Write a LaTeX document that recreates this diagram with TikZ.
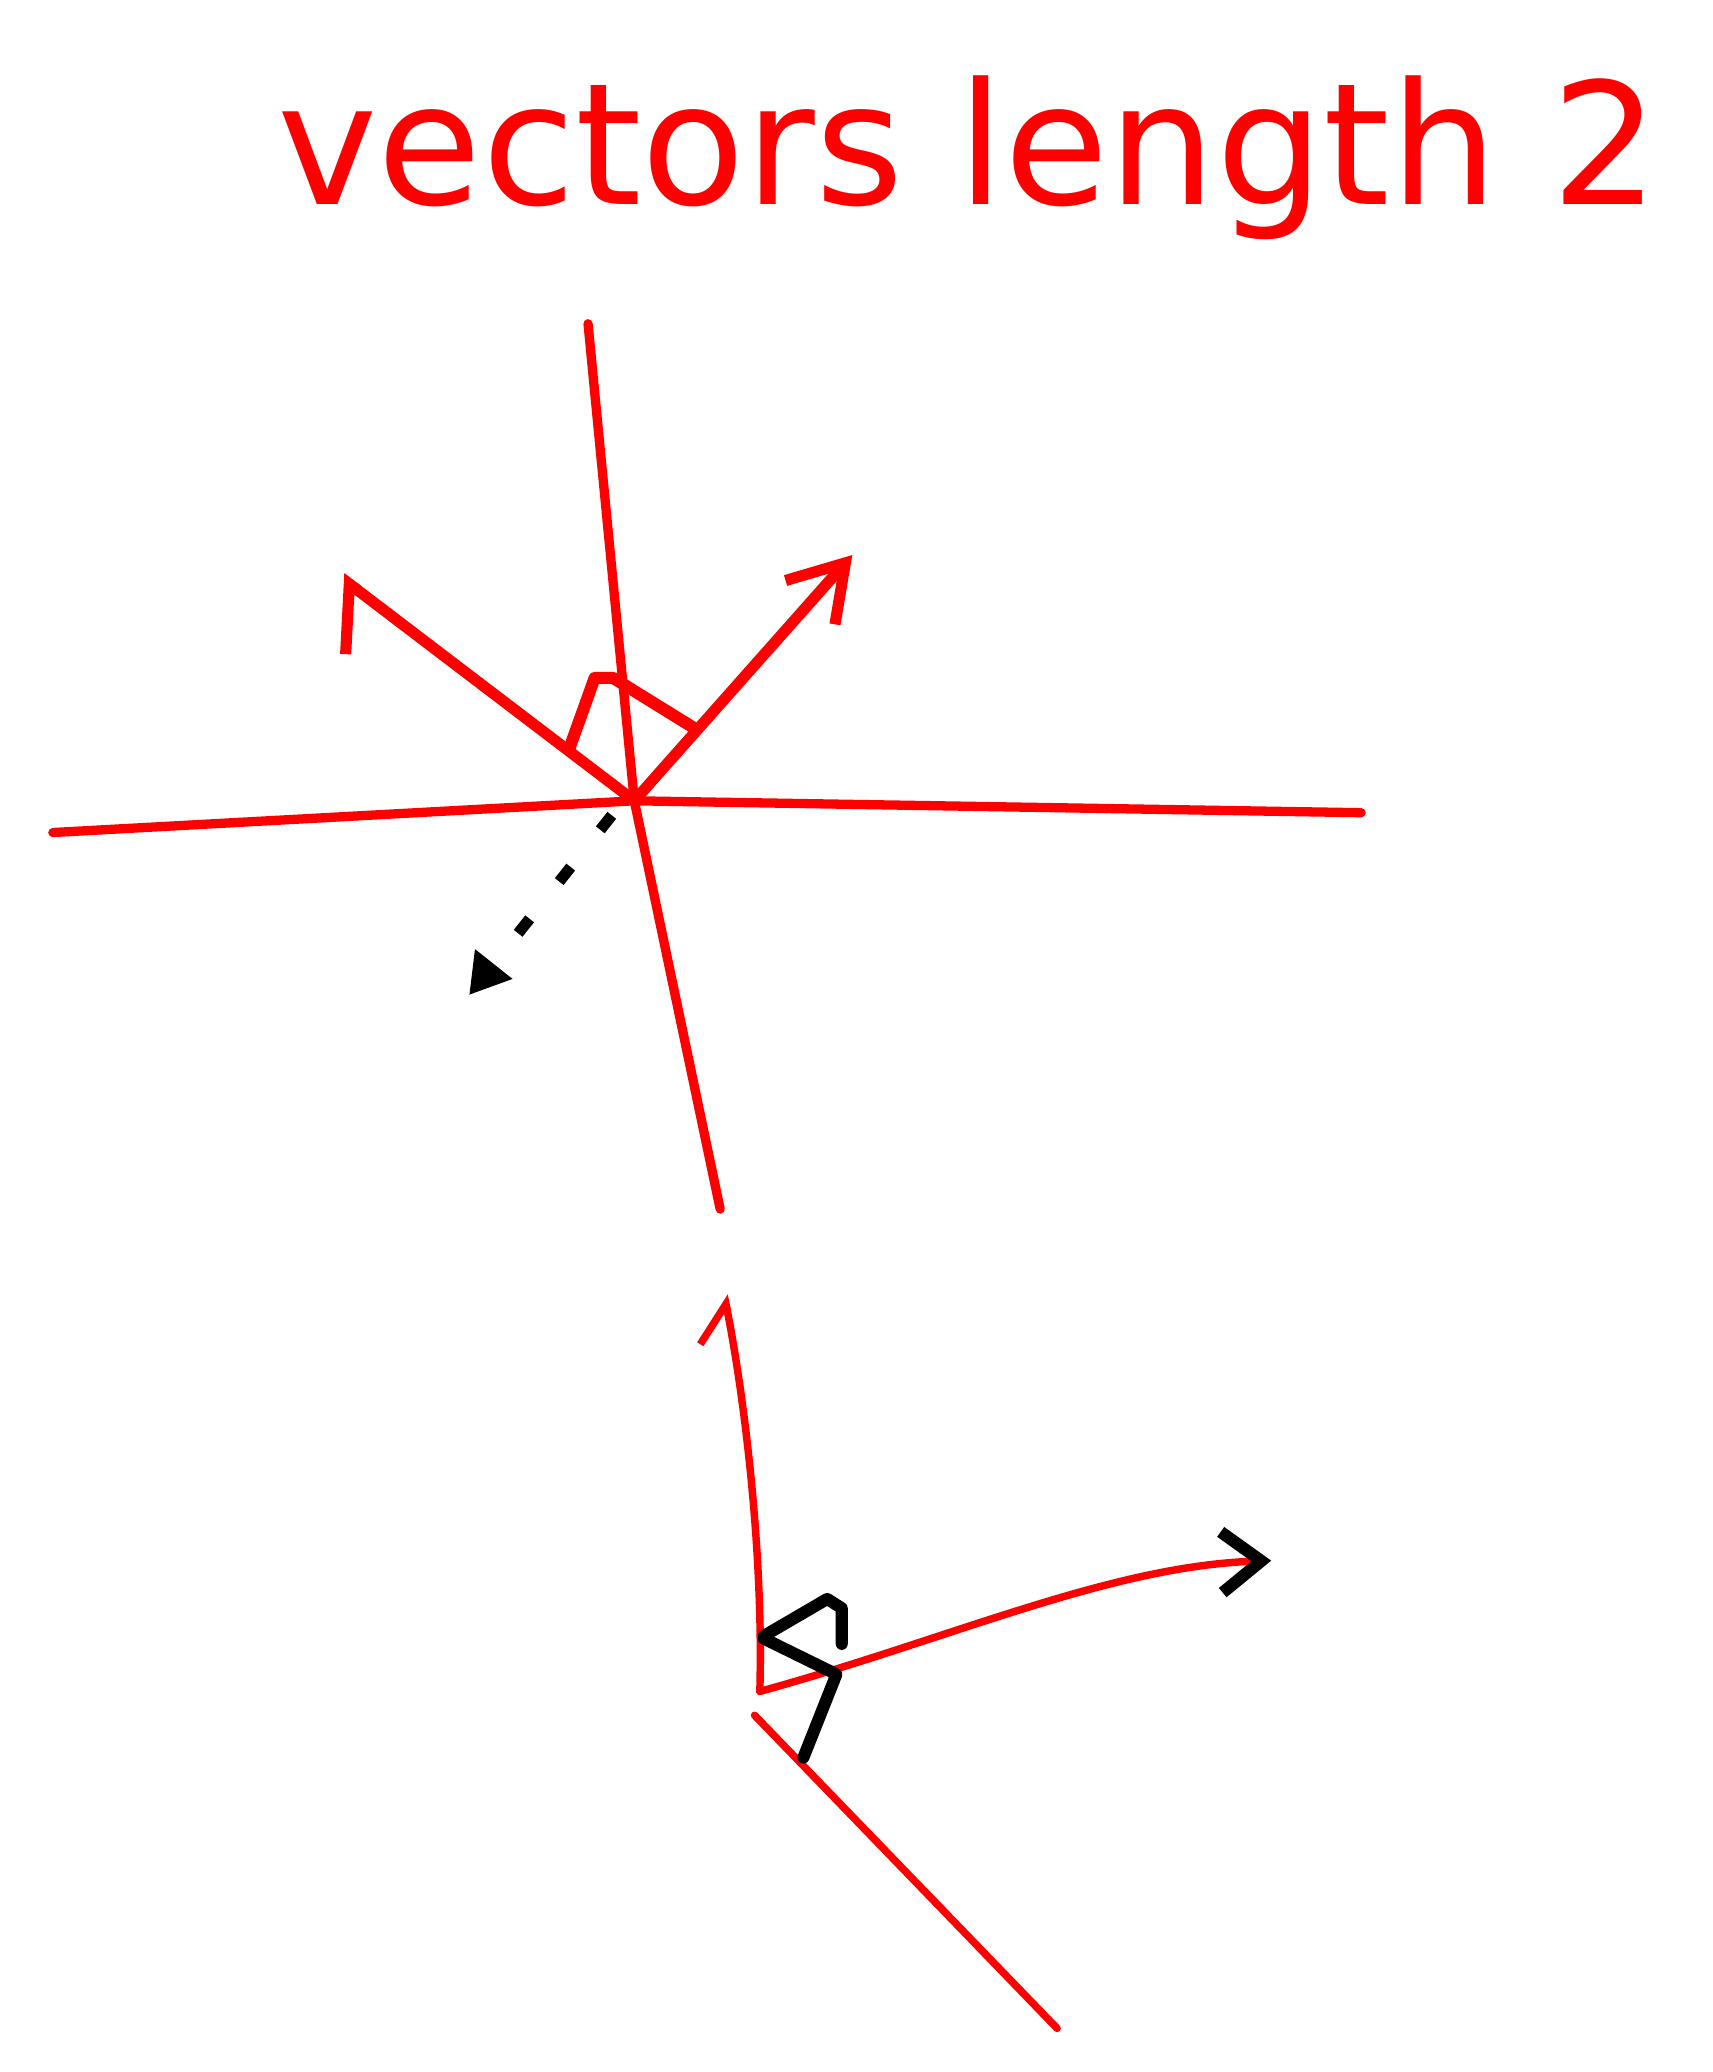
\documentclass[tikz,border=0pt]{standalone}
\usepackage{fontspec}
\newfontfamily\handfont{DejaVu Sans}
\usepackage{tikz}
\usetikzlibrary{arrows.meta}

\begin{document}
\begin{tikzpicture}[x=0.1mm, y=-0.1mm,
    pen/.style={red, line width=2pt, line cap=round, line join=round},
    thinpen/.style={red, line width=1.6pt, line cap=round, line join=round},
    blackpen/.style={black, line width=2.6pt, line cap=round, line join=round}]
    \path[use as bounding box, fill=white] (0,0) rectangle (1296,1568);
    \node[anchor=base, inner sep=0pt, text=red, font=\handfont\fontsize{36.5}{40}\selectfont] (title) at (733,155) {vectors length 2};
    \coordinate (origin) at (480,606);
    \coordinate (vtop) at (445,245);
    \coordinate (vbot) at (545,915);
    \coordinate (hleft) at (40,630);
    \coordinate (hright) at (1030,615);
    \coordinate (tipL) at (258,437);
    \coordinate (tipR) at (645,420);
    \coordinate (mL) at (431,566);
    \coordinate (mA) at (450,513);
    \coordinate (mB) at (464,513);
    \coordinate (mR) at (527,552);
    \coordinate (dS) at (463,617);
    \coordinate (dE) at (355,753);
    \draw[pen] (vtop) -- (origin) -- (vbot);
    \draw[pen] (hleft) -- (origin) -- (hright);
    \draw[pen, line width=2.4pt, -{Straight Barb[harpoon, length=3mm, width=8.8mm]}] (origin) -- (tipL);
    \draw[pen, line width=2.4pt, -{Straight Barb[length=4mm, width=5mm]}] (origin) -- (tipR);
    \draw[pen, line width=2.6pt] (mL) -- (mA) -- (mB) -- (mR);
    \draw[black, line width=2.4pt, dash pattern=on 1.4mm off 3.6mm, -{Triangle[length=3mm, width=3.4mm]}] (dS) -- (dE);
    \coordinate (o2) at (575,1280);
    \coordinate (tipU) at (548,980);
    \coordinate (tipE) at (962,1181);
    \coordinate (lS) at (571,1298);
    \coordinate (lE) at (800,1535);
    \coordinate (kA1) at (578,1238);
    \coordinate (kA2) at (626,1210);
    \coordinate (kA3) at (637,1217);
    \coordinate (kA4) at (637,1244);
    \coordinate (kB1) at (578,1240);
    \coordinate (kB2) at (633,1267);
    \coordinate (kB3) at (608,1330);
    \draw[thinpen, -{Straight Barb[harpoon, length=2.6mm, width=5mm]}] (o2) .. controls (578,1170) and (562,1050) .. (tipU);
    \draw[thinpen, -{Straight Barb[black, line width=2.6pt, length=3mm, width=4.6mm]}] (o2) .. controls (720,1240) and (840,1185) .. (tipE);
    \draw[thinpen] (lS) -- (lE);
    \draw[blackpen] (kA1) -- (kA2) -- (kA3) -- (kA4);
    \draw[blackpen] (kB1) -- (kB2) -- (kB3);
\end{tikzpicture}
\end{document}
